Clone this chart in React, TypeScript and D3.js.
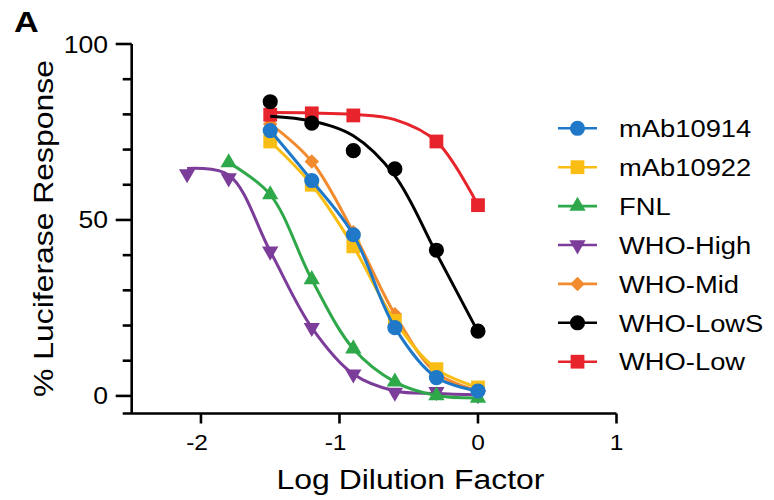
import React from 'react';
import * as d3 from 'd3';

// ---- data ----
const xValues = [-2.1, -1.8, -1.5, -1.2, -0.9, -0.6, -0.3, 0];
const seriesNames = ['mAb10914', 'mAb10922', 'FNL', 'WHO-High', 'WHO-Mid', 'WHO-LowS', 'WHO-Low'];
const mAb10914 = [null, null, 75.4, 61.2, 45.8, 19.4, 5.2, 1.4];
const mAb10922 = [null, null, 72.3, 60.0, 42.5, 21.3, 7.6, 2.4];
const fnl = [null, 66.3, 57.2, 33.1, 13.4, 4.0, 0.1, -0.6];
const whoHigh = [63.1, 61.9, 41.1, 19.4, 6.2, 1.0, 1.2, 0.3];
const whoMid = [null, null, 77.3, 66.6, 46.5, 23.2, 6.5, 1.5];
const whoLowS = [null, null, 83.6, 77.5, 69.7, 64.5, 41.4, 18.4];
const whoLow = [null, null, 79.9, 80.3, 79.7, null, 72.3, 54.2];
const whoHighCurve = [64.6, 62.8, 41.1, 19.4, 6.2, 1.4, 0.7, 0.3];
const whoLowSCurve = [null, null, 79.5, 78.1, 73.9, 62.5, 40.5, 18.2];
const whoLowCurve = [null, null, 80.5, 80.4, 80.0, 78.5, 72.3, 54.2];

const yMajorTicks = [0, 50, 100];
const yMinorTicks = [10, 20, 30, 40, 60, 70, 80, 90];
const xTicks = [-2, -1, 0, 1];
const xDomain = [-2.5, 1];
const yDomain = [-5, 100];

// ---- styles ----
const colors = ['#1f78c8', '#f9bd14', '#2fa84a', '#7b3d99', '#f28b2d', '#000000', '#e7242b'];
const symbols = ['circle', 'square', 'up', 'down', 'diamond', 'circle', 'square'];
const pointSets = [mAb10914, mAb10922, fnl, whoHigh, whoMid, whoLowS, whoLow];
const curveSets = [mAb10914, mAb10922, fnl, whoHighCurve, whoMid, whoLowSCurve, whoLowCurve];
const drawOrder = [4, 6, 5, 3, 2, 1, 0];

const FONT = 'Liberation Sans, Arial, Helvetica, sans-serif';
const SX = 1.14;

const symbolPath = (kind: string) => {
  if (kind === 'circle') return d3.symbol(d3.symbolCircle, 180)()!;
  if (kind === 'square') return d3.symbol(d3.symbolSquare, 190)()!;
  if (kind === 'diamond') return d3.symbol(d3.symbolSquare, 105)()!;
  return d3.symbol(d3.symbolTriangle, 115)()!;
};
const symbolRotate = (kind: string) => (kind === 'down' ? 180 : kind === 'diamond' ? 45 : 0);

function T(props: { x: number; y: number; size: number; anchor?: string; rotate?: number; bold?: boolean; children: any }) {
  const { x, y, size, anchor = 'start', rotate = 0, bold = false, children } = props;
  return (
    <text
      transform={`translate(${x},${y}) rotate(${rotate}) scale(${SX},1)`}
      textAnchor={anchor}
      fontFamily={FONT}
      fontWeight={bold ? 'bold' : 'normal'}
      fontSize={size}
      fill="#000"
    >
      {children}
    </text>
  );
}

export default function App() {
  const x = d3.scaleLinear().domain(xDomain).range([131.7, 616.5]);
  const y = d3.scaleLinear().domain(yDomain).range([413.5, 44]);
  const yAxisX = x(xDomain[0]);
  const xAxisY = y(yDomain[0]);

  const line = d3
    .line<[number, number]>()
    .x((d) => x(d[0]))
    .y((d) => y(d[1]))
    .curve(d3.curveCatmullRom.alpha(0.5));

  const pairs = (vals: (number | null)[]) =>
    xValues.map((xv, i) => [xv, vals[i]] as [number, number | null]).filter((p) => p[1] !== null) as [number, number][];

  const legendY = d3.scaleLinear().domain([0, 6]).range([128.3, 361.7]);

  return (
    <svg width={774} height={500} style={{ position: 'absolute', left: 0, top: 0, display: 'block', background: '#fff' }}>
      <rect x={0} y={0} width={774} height={500} fill="#fff" />
      <T x={14} y={32} size={30} bold>A</T>

      {/* y axis */}
      <line x1={yAxisX} x2={yAxisX} y1={y(100)} y2={xAxisY} stroke="#000" strokeWidth={2.6} />
      {yMajorTicks.map((t) => (
        <g key={'ym' + t}>
          <line x1={yAxisX - 16} x2={yAxisX} y1={y(t)} y2={y(t)} stroke="#000" strokeWidth={2.6} />
          <T x={108} y={y(t) + 8.5} size={23.3} anchor="end">{t}</T>
        </g>
      ))}
      {yMinorTicks.map((t) => (
        <line key={'yn' + t} x1={yAxisX - 9} x2={yAxisX} y1={y(t)} y2={y(t)} stroke="#000" strokeWidth={2.6} />
      ))}

      {/* x axis */}
      <line x1={yAxisX - 9} x2={x(xDomain[1])} y1={xAxisY} y2={xAxisY} stroke="#000" strokeWidth={2.6} />
      {xTicks.map((t) => (
        <g key={'xt' + t}>
          <line x1={x(t)} x2={x(t)} y1={xAxisY} y2={xAxisY + 10} stroke="#000" strokeWidth={2.6} />
          <T x={x(t) + 7} y={450} size={21.5} anchor="end">{t < 0 ? '-' + Math.abs(t) : String(t)}</T>
        </g>
      ))}

      <T x={410.5} y={488.5} size={28} anchor="middle">Log Dilution Factor</T>
      <T x={53} y={228.5} size={28} anchor="middle" rotate={-90}>% Luciferase Response</T>

      {/* series */}
      {drawOrder.map((i) => (
        <g key={'s' + i}>
          <path d={line(pairs(curveSets[i]))!} fill="none" stroke={colors[i]} strokeWidth={3} />
          {pairs(pointSets[i]).map((p, k) => (
            <path
              key={k}
              d={symbolPath(symbols[i])}
              transform={`translate(${x(p[0])},${y(p[1])}) rotate(${symbolRotate(symbols[i])})`}
              fill={colors[i]}
            />
          ))}
        </g>
      ))}

      {/* legend */}
      {seriesNames.map((name, i) => (
        <g key={'lg' + i}>
          <line x1={558} x2={597} y1={legendY(i)} y2={legendY(i)} stroke={colors[i]} strokeWidth={2.6} />
          <path d={symbolPath(symbols[i])} transform={`translate(577.5,${legendY(i)}) rotate(${symbolRotate(symbols[i])})`} fill={colors[i]} />
          <T x={619} y={legendY(i) + 8.7} size={24}>{name}</T>
        </g>
      ))}
    </svg>
  );
}
